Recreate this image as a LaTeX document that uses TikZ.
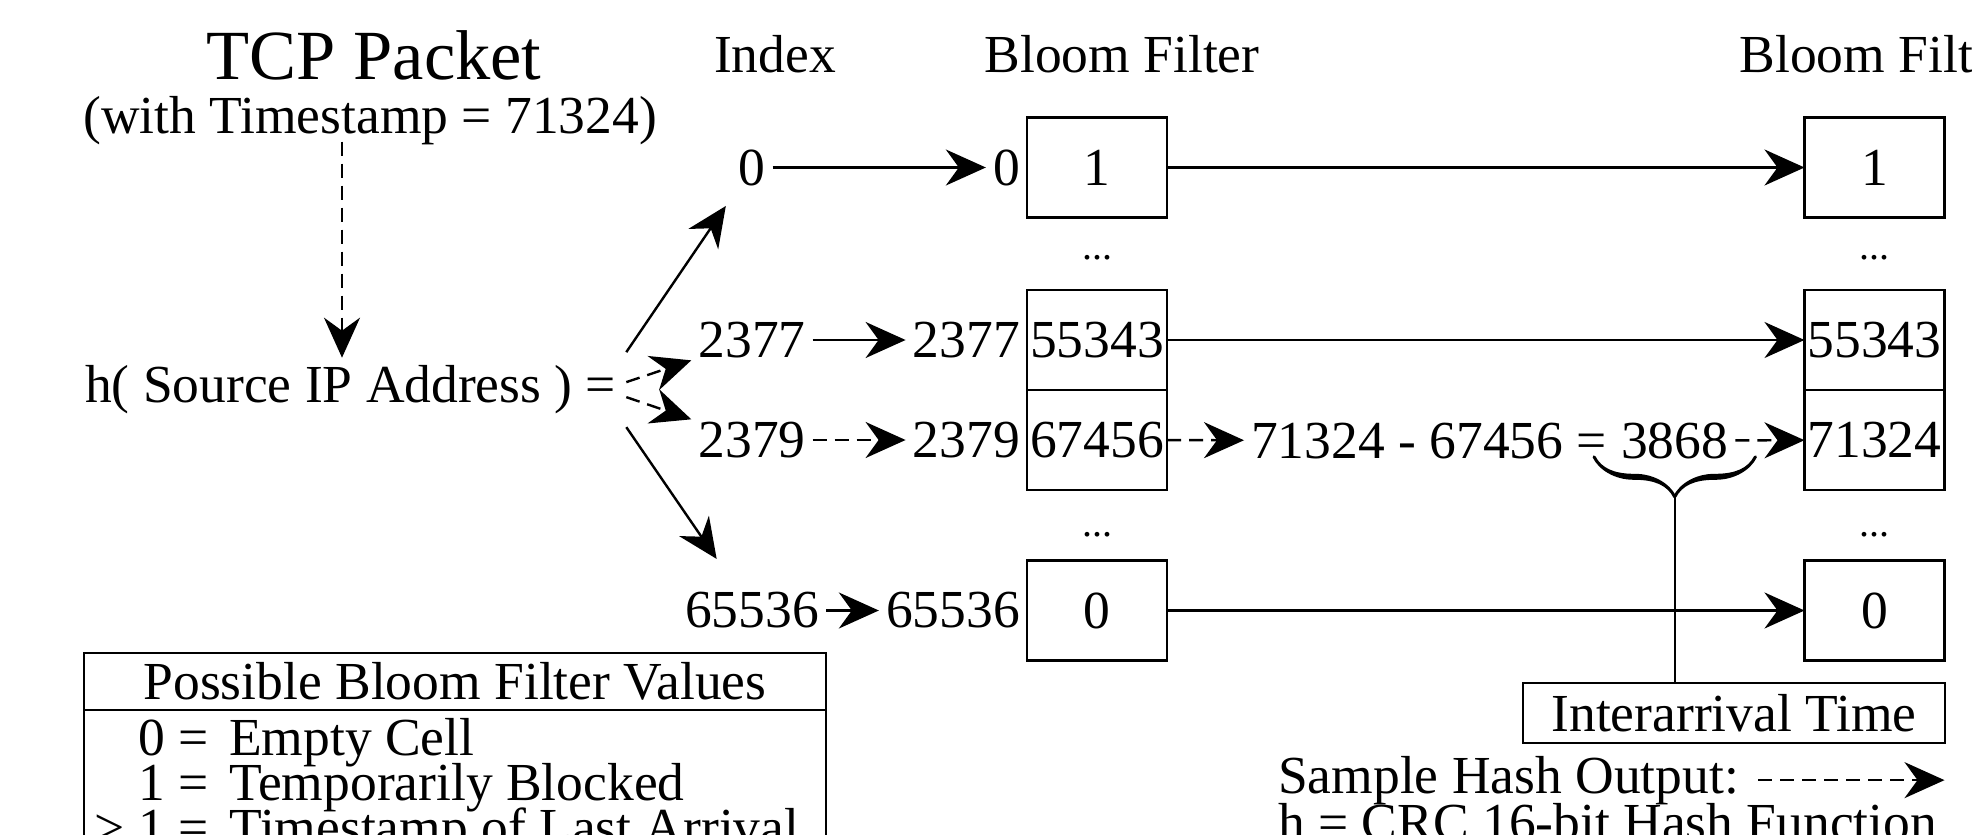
\documentclass[tikz,border=0pt]{standalone}
\usepackage{fontspec}
\setmainfont{Liberation Serif}
\usetikzlibrary{arrows.meta,positioning,calc,decorations.pathreplacing,calligraphy}

\begin{document}
\begin{tikzpicture}[x=0.5pt,y=-0.5pt,line width=1.2pt,inner sep=3pt,
    font=\fontsize{26.75}{32}\selectfont,
    cell/.style={draw,outer sep=0pt,inner sep=0pt,minimum width=70pt,minimum height=50pt},
    arr/.style={-{Stealth[length=20pt,width=18pt]}},
    hashed/.style={dash pattern=on 7pt off 4pt},
    dots/.style={anchor=base,font=\fontsize{20}{24}\selectfont}]

  \useasboundingbox (0,0) rectangle (1972,835);
  \clip (0,0) rectangle (1972,835);

  % packet and hash
  \node[anchor=base,font=\fontsize{35.25}{42}\selectfont] (title) at (374,79) {TCP Packet};
  \node[anchor=base] (stamp) at (370,133) {(with Timestamp = 71324)};
  \node[anchor=base west] (hashfn) at (78,402) {h( Source IP Address ) =};
  \coordinate (fork) at ([xshift=1.5pt]hashfn.east);
  \coordinate (drop) at ([xshift=-14pt,yshift=5pt]stamp.south);

  % headings
  \node[anchor=base] (idxhead) at (775,72) {Index};
  \node[anchor=base] (bfhead) at (1122,72) {Bloom Filter};
  \node[anchor=base] (bfhead2) at (1877,72) {Bloom Filter};

  % indices
  \node (i0) at (752,167.5) {0};
  \node (i1) at (752,340) {2377};
  \node (i2) at (752,440) {2379};
  \node (i3) at (752,610.5) {65536};

  % bloom filter, old and new
  \node[cell] (c0) at (1097,167.5) {1};
  \node[cell] (c1) at (1097,340) {55343};
  \node[cell,below=0pt of c1] (c2) {67456};
  \node[cell] (c3) at (1097,610.5) {0};
  \foreach \i/\t in {0/0,1/2377,2/2379,3/65536}
    \node[left=0pt of c\i] (s\i) {\t};

  \node[cell] (d0) at (1874.5,167.5) {1};
  \node[cell] (d1) at (1874.5,340) {55343};
  \node[cell,below=0pt of d1] (d2) {71324};
  \node[cell] (d3) at (1874.5,610.5) {0};

  \foreach \x/\n in {1097/l,1874.5/r}{
    \node[dots] (dots\n1) at (\x,259) {...};
    \node[dots] (dots\n2) at (\x,536) {...};
  }

  % interarrival time
  \node[anchor=base west] (diff) at (1244,458) {71324 - 67456 =};
  \node[right=0pt of diff] (iat) {3868};
  \node[draw,minimum width=211pt,minimum height=30pt] (gap) at (1734,713) {Interarrival Time};
  \draw[decorate,decoration={calligraphic brace,amplitude=20pt},line width=3pt]
    ([xshift=10pt,yshift=4.5pt]iat.south east) -- ([xshift=-10pt,yshift=4.5pt]iat.south west);
  \coordinate (tip) at ($(iat.south)+(0,31)$);
  \draw (tip) -- (tip |- gap.north);

  % key
  \node[anchor=base west] (sample) at (1271,793) {Sample Hash Output:};
  \node[anchor=base west] (crc) at (1271,840) {h = CRC 16-bit Hash Function};

  \node[draw,outer sep=0pt,minimum width=371pt,minimum height=28.5pt] (legend) at (455,681.5) {Possible Bloom Filter Values};
  \node[draw,outer sep=0pt,minimum width=371pt,minimum height=80pt,below=0pt of legend] (legendbody) {};
  \foreach \k/\v [count=\i] in {0/Empty Cell,1/Temporarily Blocked,{> 1}/Timestamp of Last Arrival}{
    \node[anchor=base east] (key\i) at (216,{710+45*\i}) {\k\ =};
    \node[anchor=base west] (desc\i) at (222,{710+45*\i}) {\v};
  }

  % arrows
  \draw[arr,hashed] (drop) -- (drop |- hashfn.north);
  \draw[arr,shorten >=8pt] ($(fork)+(0,-37)$) -- (i0);
  \draw[arr,hashed] ($(fork)+(0,-7)$) -- (i1);
  \draw[arr,hashed] ($(fork)+(0,8)$) -- (i2);
  \draw[arr,shorten >=16pt] ($(fork)+(0,38)$) -- (i3);

  \draw[arr] (i0) -- (s0);
  \draw[arr] (i1) -- (s1);
  \draw[arr,hashed] (i2) -- (s2);
  \draw[arr] (i3) -- (s3);

  \draw[arr] (c0) -- (d0);
  \draw[arr] (c1) -- (d1);
  \draw[arr,hashed] (c2) -- (diff);
  \draw[arr,hashed] (iat) -- (d2);
  \draw[arr] (c3) -- (d3);
  \draw[arr,hashed,shorten <=6pt] (sample.east) -- (sample.east -| d3.east);

\end{tikzpicture}
\end{document}
